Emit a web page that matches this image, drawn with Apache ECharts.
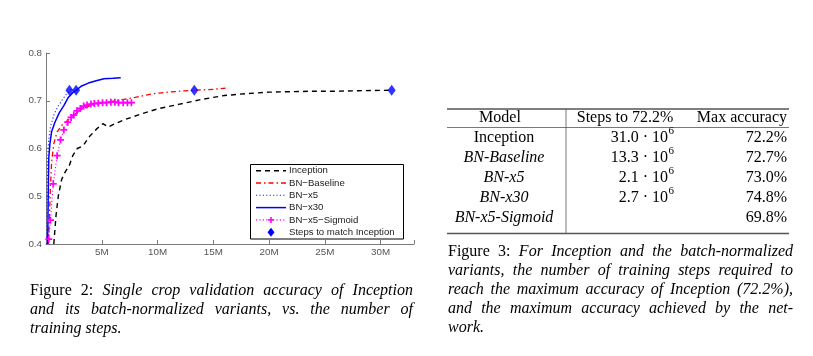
<!DOCTYPE html>
<html><head><meta charset="utf-8">
<script src="https://cdn.jsdelivr.net/npm/echarts@6/dist/echarts.min.js"></script>
<style>html,body{margin:0;padding:0;background:#fff}#c{width:813px;height:356px}</style>
</head><body><div id="c"></div>
<script>
// ---- chart data (x in millions of training steps, y = validation accuracy) ----
const seriesNames = ['Inception', 'BN\u2212Baseline', 'BN\u2212x5', 'BN\u2212x30', 'BN\u2212x5\u2212Sigmoid', 'Steps to match Inception'];
const inception = [[0.7,0.40],[0.9,0.46],[1.1,0.50],[1.4,0.535],[1.7,0.55],[2.1,0.565],[2.4,0.585],[2.8,0.60],[3.3,0.605],[3.9,0.625],[4.5,0.64],[5.1,0.652],[5.6,0.645],[6.2,0.652],[7.0,0.66],[8.5,0.672],[10,0.683],[12,0.693],[14,0.703],[16,0.711],[18,0.715],[20,0.718],[22,0.719],[24,0.72],[26,0.72],[28,0.721],[31,0.722]];
const bnBaseline = [[0.2,0.40],[0.3,0.45],[0.4,0.52],[0.5,0.57],[0.7,0.61],[1.0,0.635],[1.4,0.648],[2.0,0.66],[2.6,0.672],[3.2,0.682],[4,0.69],[5,0.695],[6,0.699],[7,0.703],[8,0.707],[9,0.712],[10,0.716],[11,0.718],[12,0.72],[13.3,0.722],[15,0.724],[16.4,0.727]];
const bnX5 = [[0.05,0.40],[0.1,0.5],[0.15,0.58],[0.25,0.62],[0.4,0.645],[0.7,0.67],[1.0,0.685],[1.4,0.70],[1.8,0.713],[2.1,0.72],[2.3,0.724]];
const bnX30 = [[0.15,0.40],[0.2,0.5],[0.25,0.58],[0.35,0.61],[0.5,0.635],[0.8,0.655],[1.2,0.675],[1.6,0.69],[2.0,0.707],[2.4,0.717],[2.7,0.722],[3.2,0.731],[3.8,0.737],[4.5,0.742],[5.2,0.746],[6.0,0.747],[6.7,0.748]];
const bnX5Sigmoid = [[0.25,0.41],[0.4,0.45],[0.65,0.526],[1.0,0.585],[1.3,0.618],[1.6,0.639],[1.95,0.655],[2.25,0.665],[2.49,0.670],[2.78,0.679],[3.08,0.684],[3.38,0.689],[3.68,0.691],[4.03,0.693],[4.33,0.694],[4.69,0.695],[5.07,0.696],[5.43,0.696],[5.82,0.697],[6.18,0.697],[6.5,0.696],[6.92,0.696],[7.3,0.696],[7.66,0.696]];
const matchSteps = [[2.1,0.722],[2.7,0.722],[13.3,0.722],[31.0,0.722]];

// ---- table data ----
const tableHeader = ['Model', 'Steps to 72.2%', 'Max accuracy'];
const tableModels = ['Inception', 'BN-Baseline', 'BN-x5', 'BN-x30', 'BN-x5-Sigmoid'];
const tableModelItalic = [false, true, true, true, true];
const tableSteps = ['31.0', '13.3', '2.1', '2.7', ''];
const tableMaxAcc = ['72.2%', '72.7%', '73.0%', '74.8%', '69.8%'];

// ---- caption texts: [text, italic] segments per line ----
const caption2 = [
  [['Figure 2:', false], ['Single crop validation accuracy of Inception', true]],
  [['and its batch-normalized variants, vs.  the number of', true]],
  [['training steps.', true]]
];
const caption3 = [
  [['Figure 3:', false], ['For Inception and the batch-normalized', true]],
  [['variants, the number of training steps required to', true]],
  [['reach the maximum accuracy of Inception (72.2%),', true]],
  [['and the maximum accuracy achieved by the net-', true]],
  [['work.', true]]
];

const SERIF = '"Liberation Serif", "Times New Roman", serif';
const SANS = '"Liberation Sans", Arial, sans-serif';
const cnv = document.createElement('canvas').getContext('2d');
function measure(t, font) { cnv.font = font; return cnv.measureText(t).width; }
function fontOf(it, size) { return (it ? 'italic ' : '') + size + 'px ' + SERIF; }

function captionEls(lines, x0, x1, base0, pitch) {
  const els = [];
  lines.forEach((segs, li) => {
    const words = [];
    segs.forEach(([t, it]) => t.split(/\s+/).filter(Boolean).forEach(w => words.push({ w, font: fontOf(it, 16) })));
    const widths = words.map(o => measure(o.w, o.font));
    const total = widths.reduce((a, b) => a + b, 0);
    const last = li === lines.length - 1;
    const gap = (!last && words.length > 1) ? (x1 - x0 - total) / (words.length - 1) : measure(' ', words[0].font);
    let x = x0;
    const y = base0 + li * pitch - 5;
    words.forEach((o, i) => {
      els.push({ type: 'text', x: x, y: y, silent: true,
        style: { text: o.w, font: o.font, fill: '#000', align: 'left', verticalAlign: 'middle' } });
      x += widths[i] + gap;
    });
  });
  return els;
}

function tableEls() {
  const els = [];
  const L = 447, R = 789, V = 566, top = 109, hdr = 127.5, bot = 233.5;
  const rule = (x1, y1, x2, y2, w) => ({ type: 'line', silent: true, shape: { x1, y1, x2, y2 }, style: { stroke: '#555', lineWidth: w } });
  els.push(rule(L, top, R, top, 1.3), rule(L, hdr, R, hdr, 0.8), rule(L, bot, R, bot, 1.3), rule(V, top, V, bot, 0.8));
  const txt = (t, x, base, align, it, size) => ({ type: 'text', x, y: base - 5, silent: true,
    style: { text: t, font: fontOf(it, size || 16), fill: '#000', align, verticalAlign: 'middle' } });
  const b0 = 122.5, pitch = 20;
  els.push(txt(tableHeader[0], 500, b0, 'center', false), txt(tableHeader[1], 625, b0, 'center', false), txt(tableHeader[2], 787, b0, 'right', false));
  tableModels.forEach((m, i) => {
    const base = b0 + pitch * (i + 1);
    els.push(txt(m, 504, base, 'center', tableModelItalic[i]));
    if (tableSteps[i]) {
      els.push(txt(tableSteps[i] + ' \u00B7 10', 668, base, 'right', false));
      els.push({ type: 'text', x: 668.5, y: base - 11, silent: true,
        style: { text: '6', font: fontOf(false, 11), fill: '#000', align: 'left', verticalAlign: 'middle' } });
    }
    els.push(txt(tableMaxAcc[i], 787, base, 'right', false));
  });
  return els;
}

// legend styles, one entry per series (same styles as the series below)
const legendStyles = [
  { stroke: '#000', lineWidth: 1.4, lineDash: [5, 4] },
  { stroke: '#ff0000', lineWidth: 1.3, lineDash: [5, 3, 1.5, 3] },
  { stroke: '#2020ff', lineWidth: 1.1, lineDash: [1.2, 2.2] },
  { stroke: '#0000ff', lineWidth: 1.5, lineDash: null },
  { stroke: '#ff00ff', lineWidth: 1.1, lineDash: [1.2, 2.2] },
  null
];
function legendEls() {
  const els = [];
  const bx = 250.5, by = 164.5, bw = 153, bh = 74.5;
  els.push({ type: 'rect', silent: true, z: 10, shape: { x: bx, y: by, width: bw, height: bh },
    style: { fill: '#fff', stroke: '#000', lineWidth: 1 } });
  seriesNames.forEach((name, i) => {
    const cy = 170.7 + 12.3 * i;
    const st = legendStyles[i];
    if (st) {
      els.push({ type: 'line', silent: true, z: 11, shape: { x1: 256, y1: cy, x2: 286, y2: cy },
        style: { stroke: st.stroke, lineWidth: st.lineWidth, lineDash: st.lineDash } });
    }
    if (i === 4) {
      els.push({ type: 'line', silent: true, z: 12, shape: { x1: 268, y1: cy, x2: 274, y2: cy }, style: { stroke: '#ff00ff', lineWidth: 1.6 } });
      els.push({ type: 'line', silent: true, z: 12, shape: { x1: 271, y1: cy - 3, x2: 271, y2: cy + 3 }, style: { stroke: '#ff00ff', lineWidth: 1.6 } });
    }
    if (i === 5) {
      els.push({ type: 'polygon', silent: true, z: 12, shape: { points: [[271, cy - 4.5], [274.5, cy], [271, cy + 4.5], [267.5, cy]] },
        style: { fill: '#0000ff' } });
    }
    els.push({ type: 'text', silent: true, z: 12, x: 289, y: cy,
      style: { text: name, font: '9.6px ' + SANS, fill: '#222', align: 'left', verticalAlign: 'middle' } });
  });
  return els;
}

const plusPath = 'path://M3,0H5V3H8V5H5V8H3V5H0V3H3Z';
const axisGray = '#7a7a7a';
const labelFont = { fontFamily: SANS, fontSize: 9.8, color: '#555' };

const chart = echarts.init(document.getElementById('c'), null, { renderer: 'canvas' });
chart.setOption({
  backgroundColor: '#fff',
  animation: false,
  grid: { left: 46, top: 53, width: 368, height: 191 },
  xAxis: {
    type: 'value', min: 0, max: 33, interval: 5,
    axisLine: { lineStyle: { color: axisGray, width: 1 } },
    axisTick: { inside: true, length: 4, lineStyle: { color: axisGray } },
    splitLine: { show: false },
    axisLabel: Object.assign({ margin: 3, formatter: v => (v === 0 || v % 5 !== 0) ? '' : v + 'M' }, labelFont)
  },
  yAxis: {
    type: 'value', min: 0.4, max: 0.8, interval: 0.1,
    axisLine: { show: true, lineStyle: { color: axisGray, width: 1 } },
    axisTick: { show: true, inside: true, length: 4, lineStyle: { color: axisGray } },
    splitLine: { show: false },
    axisLabel: Object.assign({ margin: 4, formatter: v => v.toFixed(1) }, labelFont)
  },
  series: [
    { name: seriesNames[0], type: 'line', data: inception, symbol: 'none',
      lineStyle: { color: '#000', width: 1.4, type: [5, 4] }, itemStyle: { color: '#000' } },
    { name: seriesNames[1], type: 'line', data: bnBaseline, symbol: 'none',
      lineStyle: { color: '#ff0000', width: 1.3, type: [5, 3, 1.5, 3] }, itemStyle: { color: '#ff0000' } },
    { name: seriesNames[2], type: 'line', data: bnX5, symbol: 'none',
      lineStyle: { color: '#2020ff', width: 1.1, type: [1.2, 2.2] }, itemStyle: { color: '#2020ff' } },
    { name: seriesNames[3], type: 'line', data: bnX30, symbol: 'none',
      lineStyle: { color: '#0000ff', width: 1.5, type: 'solid' }, itemStyle: { color: '#0000ff' } },
    { name: seriesNames[4], type: 'line', data: bnX5Sigmoid, symbol: plusPath, symbolSize: 7, showAllSymbol: true,
      lineStyle: { color: '#ff00ff', width: 1.1, type: [1.2, 2.2] }, itemStyle: { color: '#ff00ff' } },
    { name: seriesNames[5], type: 'scatter', data: matchSteps, symbol: 'diamond', symbolSize: [8, 11], z: 5,
      itemStyle: { color: '#0000ff' } }
  ],
  graphic: [].concat(
    legendEls(),
    tableEls(),
    captionEls(caption2, 30, 413, 295.5, 19),
    captionEls(caption3, 448, 793, 257, 19)
  )
});
</script></body></html>
